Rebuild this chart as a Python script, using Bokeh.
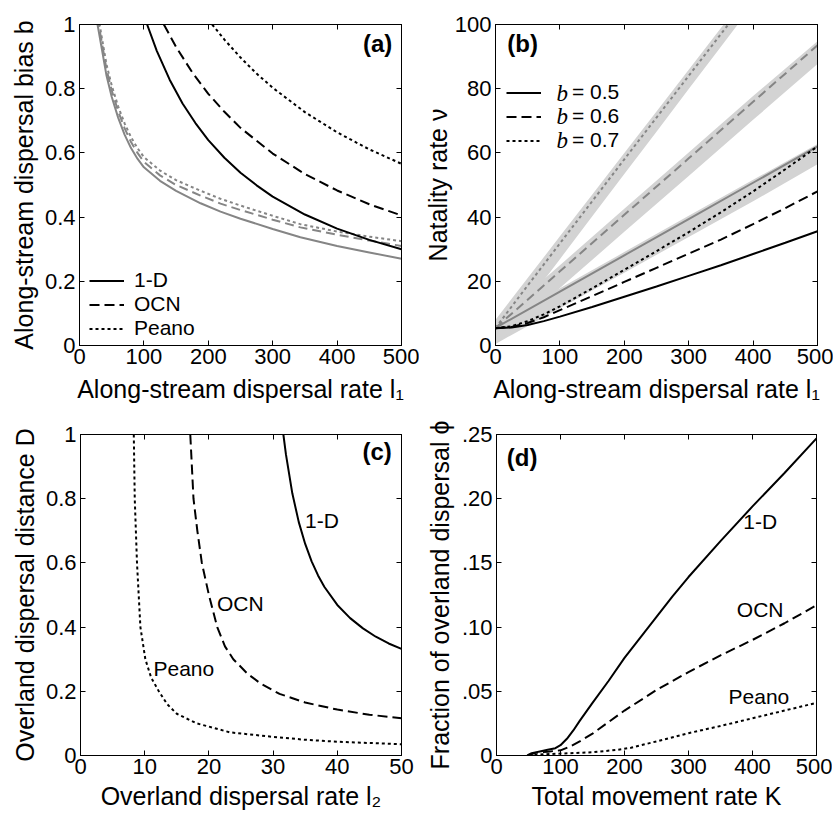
from bokeh.plotting import figure
from bokeh.layouts import row, column
from bokeh.models import Range1d, LinearAxis, FixedTicker, Label, Legend, LegendItem
from bokeh.embed import file_html
from bokeh.resources import INLINE

# ---------------- data ----------------
# (a) along-stream dispersal bias b vs along-stream dispersal rate l1
a_l1_1d = [105, 120, 140, 160, 180, 200, 225, 250, 275, 300, 350, 400, 450, 500]
a_b_1d = [1.0, 0.918, 0.828, 0.754, 0.693, 0.640, 0.585, 0.538, 0.499, 0.464, 0.408, 0.364, 0.329, 0.300]
a_l1_ocn = [131, 150, 175, 200, 225, 250, 300, 350, 400, 450, 500]
a_b_ocn = [1.0, 0.930, 0.851, 0.784, 0.728, 0.678, 0.598, 0.534, 0.483, 0.440, 0.405]
a_l1_peano = [206, 225, 250, 275, 300, 350, 400, 450, 500]
a_b_peano = [1.0, 0.953, 0.897, 0.847, 0.803, 0.727, 0.664, 0.611, 0.566]
a_l1_gray = [28, 35, 42, 50, 60, 70, 80, 90, 100, 125, 150, 188, 219, 250, 300, 343, 400, 450, 500]
a_b_gray_1d = [1.0, 0.92, 0.84, 0.775, 0.71, 0.657, 0.615, 0.582, 0.555, 0.513, 0.482, 0.443, 0.417, 0.395, 0.363, 0.337, 0.31, 0.29, 0.27]
a_b_gray_ocn = [1.02, 0.94, 0.86, 0.795, 0.73, 0.677, 0.634, 0.600, 0.572, 0.530, 0.500, 0.467, 0.442, 0.422, 0.392, 0.368, 0.345, 0.327, 0.31]
a_b_gray_peano = [1.04, 0.955, 0.875, 0.81, 0.745, 0.692, 0.649, 0.615, 0.587, 0.545, 0.515, 0.482, 0.457, 0.436, 0.404, 0.378, 0.355, 0.339, 0.325]
a_legend = ["1-D", "OCN", "Peano"]

# (b) natality rate v vs along-stream dispersal rate l1
b_l1 = [0, 25, 50, 75, 100, 150, 200, 250, 300, 350, 400, 450, 500]
b_v_05 = [5.4, 5.6, 6.4, 7.6, 9.0, 12.0, 15.2, 18.4, 21.7, 25.0, 28.5, 32.0, 35.6]
b_v_06 = [5.4, 5.8, 7.0, 8.8, 11.0, 15.4, 19.8, 24.2, 28.6, 33.0, 37.8, 42.8, 48.0]
b_v_07 = [5.4, 6.0, 7.6, 9.7, 12.2, 17.8, 23.6, 29.4, 35.3, 41.5, 48.0, 54.9, 62.0]
b_l1_g = [0, 100, 200, 300, 400, 500]
b_g05_line = [5.5, 16.8, 28.1, 39.4, 50.7, 62.0]
b_g05_lo = [0.5, 11.6, 22.7, 33.8, 44.9, 56.5]
b_g05_hi = [6.5, 17.8, 29.1, 40.4, 51.6, 62.8]
b_g06_line = [5.5, 23.1, 40.7, 58.3, 75.9, 93.5]
b_g06_lo = [0.5, 17.9, 35.4, 52.8, 70.3, 87.7]
b_g06_hi = [7.5, 25.0, 42.6, 60.1, 77.7, 94.8]
b_l1_g07 = [0, 50, 100, 150, 200, 250, 300, 350, 400]
b_g07_line = [5.5, 18.7, 31.8, 44.9, 58.0, 71.0, 84.0, 97.0, 110.0]
b_g07_lo = [0.5, 13.7, 26.9, 40.2, 53.4, 66.6, 79.9, 93.1, 106.3]
b_g07_hi = [8.0, 21.0, 34.0, 47.0, 60.0, 72.9, 85.9, 98.9, 111.9]
b_legend = ["= 0.5", "= 0.6", "= 0.7"]

# (c) overland dispersal distance D vs overland dispersal rate l2
c_l2_1d = [31.6, 32, 33, 34, 35, 36, 37, 38, 40, 42, 44, 46, 48, 50]
c_D_1d = [1.0, 0.938, 0.816, 0.727, 0.659, 0.605, 0.561, 0.525, 0.469, 0.428, 0.396, 0.37, 0.349, 0.332]
c_l2_ocn = [17.1, 17.6, 18.2, 18.9, 20, 21.3, 22.5, 23.8, 26, 28, 31, 35, 40, 45, 50]
c_D_ocn = [1.0, 0.8, 0.7, 0.6, 0.5, 0.4, 0.34, 0.3, 0.255, 0.225, 0.192, 0.165, 0.143, 0.127, 0.116]
c_l2_peano = [8.3, 8.45, 8.8, 9.33, 10.1, 11, 12.2, 13.5, 15, 18.1, 20, 23.3, 30, 35, 40, 45, 50]
c_D_peano = [1.0, 0.8, 0.6, 0.4, 0.3, 0.243, 0.2, 0.16, 0.13, 0.1, 0.09, 0.072, 0.058, 0.049, 0.043, 0.039, 0.035]

# (d) fraction of overland dispersal phi vs total movement rate K
d_K_1d = [48, 55, 66, 80, 92, 100, 110, 120, 130, 150, 175, 200, 225, 250, 275, 300, 350, 400, 450, 500]
d_phi_1d = [0, 0.0018, 0.003, 0.0045, 0.0057, 0.008, 0.013, 0.0195, 0.027, 0.041, 0.058, 0.076, 0.092, 0.108, 0.124, 0.139, 0.167, 0.194, 0.220, 0.247]
d_K_ocn = [50, 60, 80, 100, 115, 130, 150, 175, 200, 250, 300, 350, 400, 450, 500]
d_phi_ocn = [0, 0.002, 0.003, 0.004, 0.007, 0.011, 0.017, 0.026, 0.035, 0.051, 0.065, 0.078, 0.090, 0.103, 0.117]
d_K_peano = [50, 75, 100, 150, 190, 210, 250, 300, 350, 400, 450, 500]
d_phi_peano = [0, 0.001, 0.0015, 0.0025, 0.0045, 0.006, 0.011, 0.0174, 0.023, 0.029, 0.035, 0.041]

# ticks
t_l1 = [0, 100, 200, 300, 400, 500]
t_l1_lab = ["0", "100", "200", "300", "400", "500"]
t_unit = [0, 0.2, 0.4, 0.6, 0.8, 1.0]
t_unit_lab = ["0", "0.2", "0.4", "0.6", "0.8", "1"]
t_v = [0, 20, 40, 60, 80, 100]
t_v_lab = ["0", "20", "40", "60", "80", "100"]
t_l2 = [0, 10, 20, 30, 40, 50]
t_l2_lab = ["0", "10", "20", "30", "40", "50"]
t_phi = [0, 0.05, 0.1, 0.15, 0.2, 0.25]
t_phi_lab = ["0", ".05", ".10", ".15", ".20", ".25"]

# ---------------- styles ----------------
SANS = "Liberation Sans"
SERIF = "Liberation Serif"
GRAY = "#858585"
BAND = "#d3d3d3"
DASH = "10 5"
DOT = "3 3"
GDASH = "9 5"
GDOT = "3 3"
TICK_FS = "22px"
TITLE_FS = "25px"
SMALL_FS = "21px"


def make_fig(xr, yr, fw, fh, bl, br, bt, bb, xt, xl, yt, yl, xlabel, ylabel, xs, ys):
    p = figure(frame_width=fw, frame_height=fh,
               x_range=Range1d(*xr), y_range=Range1d(*yr),
               x_axis_type=None, y_axis_type=None,
               output_backend="svg", toolbar_location=None,
               min_border_left=bl, min_border_right=br,
               min_border_top=bt, min_border_bottom=bb)
    p.outline_line_color = "black"
    p.outline_line_width = 1
    p.background_fill_color = "white"
    p.border_fill_color = "white"
    for loc, ticks, labels, title, st in (("below", xt, xl, xlabel, xs), ("above", xt, None, None, 0),
                                          ("left", yt, yl, ylabel, ys), ("right", yt, None, None, 0)):
        show = labels is not None
        ax = LinearAxis(ticker=FixedTicker(ticks=ticks, minor_ticks=[]))
        ax.major_label_overrides = dict(zip(ticks, labels if show else [""] * len(ticks)))
        ax.major_tick_in = 5
        ax.major_tick_out = 0
        ax.minor_tick_line_color = None
        ax.axis_line_color = "black"
        ax.major_tick_line_color = "black"
        ax.major_label_text_font = SANS
        ax.major_label_text_font_size = TICK_FS if show else "1px"
        ax.major_label_text_color = "black" if show else None
        ax.major_label_standoff = (3 if loc == "below" else 4) if show else 0
        if title:
            ax.axis_label = title
            ax.axis_label_text_font = SANS
            ax.axis_label_text_font_size = TITLE_FS
            ax.axis_label_text_font_style = "normal"
            ax.axis_label_text_color = "black"
            ax.axis_label_standoff = st
        p.add_layout(ax, loc)
    return p


def lab(p, x, y, text, size, font=SANS, style="normal", align="center", baseline="middle"):
    p.add_layout(Label(x=x, y=y, text=text, text_font=font, text_font_size=size,
                       text_font_style=style, text_align=align, text_baseline=baseline,
                       text_color="black"))


def make_legend(labels, renderers, loc, standoff):
    return Legend(items=[LegendItem(label=labels[i], renderers=[r]) for i, r in enumerate(renderers)],
                  location=loc, orientation="vertical", padding=0, margin=0, spacing=0,
                  glyph_width=35, glyph_height=21, label_height=21, label_standoff=standoff,
                  label_text_font=SANS, label_text_font_size=SMALL_FS, label_text_color="black",
                  border_line_color=None, background_fill_alpha=0)


# ---------------- panel (a) ----------------
pa = make_fig((0, 500), (0, 1), 322, 321, 79, 18, 24, 70, t_l1, t_l1_lab, t_unit, t_unit_lab,
              "Along-stream dispersal rate l\u2081", "Along-stream dispersal bias b", 8, 4)
pa.line(a_l1_gray, a_b_gray_1d, line_color=GRAY, line_width=2)
pa.line(a_l1_gray, a_b_gray_ocn, line_color=GRAY, line_width=2, line_dash=GDASH)
pa.line(a_l1_gray, a_b_gray_peano, line_color=GRAY, line_width=2, line_dash=GDOT)
ra1 = pa.line(a_l1_1d, a_b_1d, line_color="black", line_width=2)
ra2 = pa.line(a_l1_ocn, a_b_ocn, line_color="black", line_width=2, line_dash=DASH)
ra3 = pa.line(a_l1_peano, a_b_peano, line_color="black", line_width=2, line_dash=DOT)
pa.add_layout(make_legend(a_legend, [ra1, ra2, ra3], (10, 5), 10))
lab(pa, 463, 0.94, "(a)", "24px", style="bold")

# ---------------- panel (b) ----------------
pb = make_fig((0, 500), (0, 100), 322, 321, 76, 16, 24, 70, t_l1, t_l1_lab, t_v, t_v_lab,
              "Along-stream dispersal rate l\u2081", "Natality rate \u03bd", 8, 0)
pb.varea(x=b_l1_g, y1=b_g05_lo, y2=b_g05_hi, fill_color=BAND)
pb.varea(x=b_l1_g, y1=b_g06_lo, y2=b_g06_hi, fill_color=BAND)
pb.varea(x=b_l1_g07, y1=b_g07_lo, y2=b_g07_hi, fill_color=BAND)
pb.line(b_l1_g, b_g05_line, line_color=GRAY, line_width=2)
pb.line(b_l1_g, b_g06_line, line_color=GRAY, line_width=2, line_dash=GDASH)
pb.line(b_l1_g07, b_g07_line, line_color=GRAY, line_width=2, line_dash=GDOT)
rb1 = pb.line(b_l1, b_v_05, line_color="black", line_width=2)
rb2 = pb.line(b_l1, b_v_06, line_color="black", line_width=2, line_dash=DASH)
rb3 = pb.line(b_l1, b_v_07, line_color="black", line_width=2, line_dash=DOT)
pb.add_layout(make_legend(b_legend, [rb1, rb2, rb3], (11, 193), 31))
for dyrow in (252.5, 229, 205.5):
    lab(pb, 61 * 500 / 322, dyrow * 100 / 321, "b", "23px", font=SERIF, style="italic",
        align="left")
lab(pb, 42, 94, "(b)", "24px", style="bold")

# ---------------- panel (c) ----------------
pc = make_fig((0, 50), (0, 1), 321, 321, 80, 18, 19, 61, t_l2, t_l2_lab, t_unit, t_unit_lab,
              "Overland dispersal rate l\u2082", "Overland dispersal distance D", 5, 4)
pc.line(c_l2_1d, c_D_1d, line_color="black", line_width=2)
pc.line(c_l2_ocn, c_D_ocn, line_color="black", line_width=2, line_dash=DASH)
pc.line(c_l2_peano, c_D_peano, line_color="black", line_width=2, line_dash=DOT)
lab(pc, 37.6, 0.733, "1-D", SMALL_FS)
lab(pc, 24.9, 0.473, "OCN", SMALL_FS)
lab(pc, 16.1, 0.27, "Peano", SMALL_FS)
lab(pc, 46.2, 0.946, "(c)", "24px", style="bold")

# ---------------- panel (d) ----------------
pd = make_fig((0, 500), (0, 0.25), 320, 321, 77, 16, 19, 61, t_l1, t_l1_lab, t_phi, t_phi_lab,
              "Total movement rate K", "Fraction of overland dispersal \u03d5", 5, 5)
pd.line(d_K_1d, d_phi_1d, line_color="black", line_width=2)
pd.line(d_K_ocn, d_phi_ocn, line_color="black", line_width=2, line_dash=DASH)
pd.line(d_K_peano, d_phi_peano, line_color="black", line_width=2, line_dash=DOT)
lab(pd, 412, 0.182, "1-D", SMALL_FS)
lab(pd, 412, 0.1136, "OCN", SMALL_FS)
lab(pd, 410, 0.046, "Peano", SMALL_FS)
lab(pd, 40, 0.232, "(d)", "24px", style="bold")

layout = column(row(pa, pb), row(pc, pd))
open("out.html", "w").write(file_html(layout, INLINE))
